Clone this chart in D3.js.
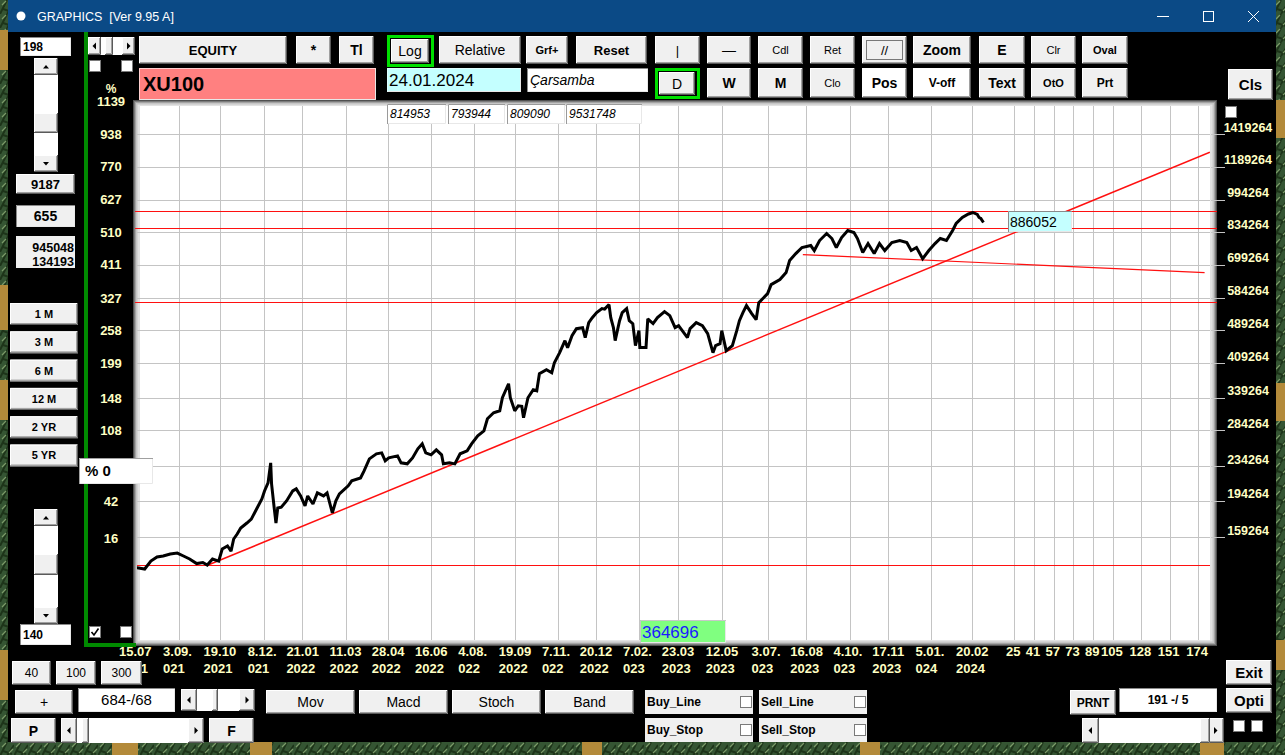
<!DOCTYPE html>
<html>
<head>
<meta charset="utf-8">
<script src="https://cdn.jsdelivr.net/npm/d3@7"></script>
<style>
  body { margin: 0; background: #000; overflow: hidden; }
  svg { display: block; }
  text { font-family: "Liberation Sans", Arial, sans-serif; }
</style>
</head>
<body>
<svg id="chart" width="1285" height="755"></svg>
<script>
// ---- data ----
const dates = [
  "2021-07-16","2021-07-26","2021-08-02","2021-08-09","2021-08-16","2021-08-24","2021-09-01","2021-09-08","2021-09-15","2021-09-23",
  "2021-09-30","2021-10-05","2021-10-11","2021-10-18","2021-10-22","2021-10-28","2021-11-01","2021-11-04","2021-11-08","2021-11-12",
  "2021-11-19","2021-11-24","2021-11-30","2021-12-06","2021-12-09","2021-12-13","2021-12-16","2021-12-17","2021-12-20","2021-12-22",
  "2021-12-24","2021-12-28","2022-01-03","2022-01-10","2022-01-14","2022-01-19","2022-01-24","2022-01-27","2022-02-02","2022-02-07",
  "2022-02-14","2022-02-18","2022-02-24","2022-02-28","2022-03-04","2022-03-14","2022-03-18","2022-03-28","2022-04-01","2022-04-07",
  "2022-04-15","2022-04-21","2022-04-25","2022-04-29","2022-05-09","2022-05-13","2022-05-20","2022-05-26","2022-06-01","2022-06-06",
  "2022-06-10","2022-06-16","2022-06-22","2022-06-28","2022-06-30","2022-07-07","2022-07-13","2022-07-19","2022-07-27","2022-08-01",
  "2022-08-08","2022-08-15","2022-08-19","2022-08-26","2022-09-02","2022-09-05","2022-09-12","2022-09-14","2022-09-19","2022-09-23",
  "2022-09-27","2022-09-29","2022-10-04","2022-10-10","2022-10-14","2022-10-17","2022-10-25","2022-10-31","2022-11-03","2022-11-09",
  "2022-11-15","2022-11-18","2022-11-23","2022-11-28","2022-12-05","2022-12-08","2022-12-12","2022-12-16","2022-12-21","2022-12-27",
  "2022-12-30","2023-01-04","2023-01-06","2023-01-09","2023-01-11","2023-01-16","2023-01-19","2023-01-24","2023-01-27","2023-01-31",
  "2023-02-03","2023-02-07","2023-02-08","2023-02-15","2023-02-17","2023-02-23","2023-02-28","2023-03-08","2023-03-14","2023-03-20",
  "2023-03-24","2023-04-03","2023-04-06","2023-04-13","2023-04-20","2023-04-26","2023-05-02","2023-05-05","2023-05-10","2023-05-12",
  "2023-05-17","2023-05-24","2023-05-29","2023-06-01","2023-06-05","2023-06-09","2023-06-15","2023-06-20","2023-06-23","2023-07-03",
  "2023-07-07","2023-07-17","2023-07-24","2023-07-28","2023-08-04","2023-08-11","2023-08-21","2023-08-25","2023-08-31","2023-09-08",
  "2023-09-14","2023-09-19","2023-09-25","2023-10-02","2023-10-09","2023-10-13","2023-10-19","2023-10-25","2023-11-01","2023-11-07",
  "2023-11-13","2023-11-21","2023-11-30","2023-12-08","2023-12-13","2023-12-19","2023-12-26","2024-01-02","2024-01-09","2024-01-15",
  "2024-01-22","2024-01-29","2024-02-02","2024-02-09","2024-02-16","2024-02-21","2024-02-26","2024-02-28","2024-03-01","2024-03-04"
]

const closes = [
  135200,134100,140000,143100,143900,145500,146200,143900,141600,138100,
  138900,137000,141600,140000,149400,152000,147800,157800,162100,167500,
  172100,175800,185700,196100,204800,213900,238500,212800,186700,172100,
  186700,187500,194000,204800,207100,199300,188800,199300,190800,202600,
  199300,202600,181800,194000,201500,210500,216300,219700,228400,243700,
  250500,251800,241100,245000,247700,238500,237200,245000,257400,264400,
  251800,249100,256000,249100,237200,238500,237200,250500,254600,264400,
  276100,283700,302900,312900,316300,339500,366300,339500,316300,325000,
  324000,304600,339500,354600,352600,386700,395200,388800,410500,433500,
  462700,445400,475400,493800,496500,470300,510100,524200,538700,550500,
  549000,562500,524200,496500,462700,515700,538700,550500,515700,507400,
  450300,488500,446100,446100,520500,507400,524200,541600,529900,496500,
  501900,470300,493800,510100,501900,480600,433500,450300,455200,488500,
  438200,450300,488500,515700,538700,559600,535800,518500,568700,597200,
  627100,644400,669300,714500,742100,766700,775100,754300,796400,827300,
  805100,766700,809500,840900,831900,805100,746200,783500,742100,783500,
  754300,787800,796400,787800,754300,766700,721800,754300,783500,805100,
  796400,840900,873500,902400,919700,927200,917200,902400,897700,878200
]

const baseValue = 136770                    // the 0 % level
const pctLabels = [16, 42, 108, 148, 199, 258, 327, 411, 510, 627, 770, 938, 1139]
const priceTicks = [159264, 194264, 234264, 284264, 339264, 409264, 489264, 584264, 699264, 834264, 994264, 1189264, 1419264]

const tickDates = ["2021-07-15","2021-09-03","2021-10-19","2021-12-08","2022-01-21","2022-03-11","2022-04-28",
  "2022-06-16","2022-08-04","2022-09-19","2022-11-07","2022-12-20","2023-02-07","2023-03-23","2023-05-12",
  "2023-07-03","2023-08-16","2023-10-04","2023-11-17","2024-01-05","2024-02-20"]
const tickTop = ["15.07","3.09.","19.10","8.12.","21.01","11.03","28.04","16.06","4.08.","19.09","7.11.",
  "20.12","7.02.","23.03","12.05","3.07.","16.08","4.10.","17.11","5.01.","20.02"]
const tickBottom = ["2021","021","2021","021","2022","2022","2022","2022","022","2022","022",
  "2022","023","2023","2023","023","2023","023","2023","024","2024"]
const futureTicks = [25, 41, 57, 73, 89, 105, 128, 151, 174]   // bars after the last one

const levelLines = [935500, 853100, 570000]
const trendLines = [
  { from: ["2021-10-06", 137000], to: ["2024-11-16", 1285800] },
  { from: ["2023-08-12", 738100], to: ["2024-11-10", 669000] }
]

// ---- scales ----
const parse = d3.utcParse("%Y-%m-%d")
const series = dates.map((d, i) => ({ date: parse(d), value: closes[i] }))

const plot = { left: 140, top: 106, right: 1210, bottom: 640 }

const x = d3.scaleUtc()
  .domain([parse(tickDates[0]), parse(tickDates[tickDates.length - 1])])
  .range([135, 972])

const y = d3.scaleLog()
  .domain([priceTicks[0], priceTicks[priceTicks.length - 1]])
  .range([537.3, 134])

// bars past the last one: 5 trading days per calendar week
const lastDate = series[series.length - 1].date
const xFuture = n => x(lastDate.getTime() + n * 1.4 * 864e5)

const svg = d3.select("#chart")
const SANS = '"Liberation Sans", Arial, sans-serif'
const SERIF = '"Liberation Serif", "Times New Roman", serif'
const YEL = "#ffffc4"

// ---- backdrop, window ----
const defs = svg.append("defs")
const leaf = defs.append("pattern").attr("id", "leaf").attr("width", 14).attr("height", 14)
  .attr("patternUnits", "userSpaceOnUse")
leaf.append("rect").attr("width", 14).attr("height", 14).attr("fill", "#355533")
leaf.append("path").attr("d", "M0,14L7,0M7,14L14,3M3,9L12,12").attr("stroke", "#1d3419").attr("stroke-width", 2)
leaf.append("path").attr("d", "M2,5L6,1M9,11L13,7").attr("stroke", "#7a9a68").attr("stroke-width", 1.2)

svg.append("rect").attr("width", 1285).attr("height", 755).attr("fill", "url(#leaf)")
const bamboo = [[0, 30, 8, 40], [0, 285, 8, 45], [0, 380, 8, 40], [0, 650, 8, 50],
  [1276, 100, 9, 38], [1276, 383, 9, 38], [1276, 640, 9, 30],
  [112, 742, 26, 13], [250, 742, 22, 13], [582, 742, 20, 13], [860, 742, 20, 13], [1200, 742, 24, 13]]
svg.append("g").selectAll("rect").data(bamboo).join("rect")
  .attr("x", d => d[0]).attr("y", d => d[1]).attr("width", d => d[2]).attr("height", d => d[3])
  .attr("fill", "#b38a3a")

svg.append("rect").attr("x", 8).attr("y", 0).attr("width", 1268).attr("height", 742).attr("fill", "#000")
svg.append("rect").attr("x", 8).attr("y", 0).attr("width", 1268).attr("height", 32).attr("fill", "#0b4a86")
svg.append("circle").attr("cx", 21).attr("cy", 16).attr("r", 4.5).attr("fill", "#fff")
svg.append("text").attr("x", 37).attr("y", 21).attr("fill", "#fff").attr("font-size", 12.5)
  .style("white-space", "pre")
  .attr("font-family", '"Noto Sans", "DejaVu Sans", sans-serif').text("GRAPHICS  [Ver 9.95 A]")
svg.append("path").attr("d", "M1157,16.5H1169").attr("stroke", "#fff")
svg.append("rect").attr("x", 1203.5).attr("y", 11.5).attr("width", 10).attr("height", 10)
  .attr("fill", "none").attr("stroke", "#fff")
svg.append("path").attr("d", "M1248,11L1259,22M1259,11L1248,22").attr("stroke", "#fff")

// ---- widget helpers ----
function button(x0, y0, w, h, label, o = {}) {
  const g = svg.append("g")
  g.append("rect").attr("x", x0).attr("y", y0).attr("width", w).attr("height", h).attr("fill", o.fill || "#f0f0f0")
  g.append("path").attr("d", `M${x0 + .5},${y0 + h - 1}V${y0 + .5}H${x0 + w - 1}`).attr("stroke", "#fff").attr("fill", "none")
  g.append("path").attr("d", `M${x0},${y0 + h - .5}H${x0 + w - .5}V${y0}`).attr("stroke", "#5a5a5a").attr("fill", "none")
  g.append("path").attr("d", `M${x0 + 1},${y0 + h - 1.5}H${x0 + w - 1.5}V${y0 + 1}`).attr("stroke", "#a0a0a0").attr("fill", "none")
  if (o.focus) g.append("rect").attr("x", x0 + 4.5).attr("y", y0 + 4.5).attr("width", w - 9).attr("height", h - 9)
    .attr("fill", "none").attr("stroke", "#000").attr("stroke-dasharray", "1,1")
  g.append("text").attr("x", x0 + w / 2).attr("y", y0 + h / 2 + (o.dy || 0)).attr("dy", "0.36em")
    .attr("text-anchor", "middle").attr("font-size", o.size || 13)
    .attr("font-weight", o.bold ? "bold" : "normal").attr("font-family", o.font || SANS).text(label)
  return g
}

function field(x0, y0, w, h, label, o = {}) {
  const g = svg.append("g")
  g.append("rect").attr("x", x0).attr("y", y0).attr("width", w).attr("height", h).attr("fill", o.fill || "#fff")
  g.append("path").attr("d", `M${x0 + .5},${y0 + h}V${y0 + .5}H${x0 + w}`).attr("stroke", o.edge || "#8a8a8a").attr("fill", "none")
  g.append("path").attr("d", `M${x0 + 1},${y0 + h - .5}H${x0 + w - .5}V${y0 + 1}`).attr("stroke", "#e8e8e8").attr("fill", "none")
  const t = g.append("text").attr("y", y0 + h / 2 + (o.dy || 0)).attr("dy", "0.36em")
    .attr("font-size", o.size || 13).attr("font-weight", o.bold ? "bold" : "normal")
    .attr("font-style", o.italic ? "italic" : "normal").attr("fill", o.color || "#000")
    .attr("font-family", o.font || SANS)
  if (o.align === "middle") t.attr("x", x0 + w / 2).attr("text-anchor", "middle")
  else if (o.align === "end") t.attr("x", x0 + w - 3).attr("text-anchor", "end")
  else t.attr("x", x0 + (o.pad || 3))
  t.text(label)
  return g
}

function checkbox(x0, y0, checked) {
  svg.append("rect").attr("x", x0 + .5).attr("y", y0 + .5).attr("width", 11).attr("height", 11)
    .attr("fill", "#fff").attr("stroke", "#7a7a7a")
  if (checked) svg.append("path").attr("d", `M${x0 + 2.5},${y0 + 6}L${x0 + 5},${y0 + 9}L${x0 + 9.5},${y0 + 2.5}`)
    .attr("fill", "none").attr("stroke", "#000").attr("stroke-width", 1.6)
}

function arrowBtn(x0, y0, w, h, dir) {
  button(x0, y0, w, h, "")
  const cx = x0 + w / 2, cy = y0 + h / 2
  const tri = {
    up: `M${cx - 3},${cy + 2}L${cx + 3},${cy + 2}L${cx},${cy - 1.5}Z`,
    down: `M${cx - 3},${cy - 1.5}L${cx + 3},${cy - 1.5}L${cx},${cy + 2}Z`,
    left: `M${cx + 1.5},${cy - 3.5}L${cx + 1.5},${cy + 3.5}L${cx - 2},${cy}Z`,
    right: `M${cx - 1.5},${cy - 3.5}L${cx - 1.5},${cy + 3.5}L${cx + 2},${cy}Z`
  }
  svg.append("path").attr("d", tri[dir]).attr("fill", "#000")
}

function vscroll(x0, y0, w, h, t0, t1) {
  svg.append("rect").attr("x", x0).attr("y", y0).attr("width", w).attr("height", h).attr("fill", "#fff")
  arrowBtn(x0, y0, w, 17, "up")
  arrowBtn(x0, y0 + h - 17, w, 17, "down")
  button(x0, t0, w, t1 - t0, "")
}

function hscroll(x0, y0, w, h, bw, t0, t1) {
  svg.append("rect").attr("x", x0).attr("y", y0).attr("width", w).attr("height", h).attr("fill", "#fff")
  arrowBtn(x0, y0, bw, h, "left")
  arrowBtn(x0 + w - bw, y0, bw, h, "right")
  button(t0, y0, t1 - t0, h, "")
}

// ---- chart frame ----
const frame = svg.append("g")
const shades = [["#505050", 6], ["#7c7c7c", 5], ["#a4a4a4", 4], ["#c6c6c6", 3], ["#e2e2e2", 1.5]]
shades.forEach(([c, m]) => frame.append("rect")
  .attr("x", plot.left - m - 1).attr("y", plot.top - m).attr("width", plot.right - plot.left + 2 * m + 2)
  .attr("height", plot.bottom - plot.top + 2 * m).attr("fill", c))
frame.append("rect").attr("x", plot.left).attr("y", plot.top)
  .attr("width", plot.right - plot.left).attr("height", plot.bottom - plot.top).attr("fill", "#fff")

defs.append("clipPath").attr("id", "plotClip").append("rect")
  .attr("x", plot.left - 3).attr("y", plot.top).attr("width", plot.right - plot.left + 3)
  .attr("height", plot.bottom - plot.top)

// grid
const grid = svg.append("g").attr("stroke", "#c4c4c4").attr("shape-rendering", "crispEdges")
const vx = tickDates.map(d => x(parse(d))).concat(futureTicks.map(xFuture))
  .filter(v => v > plot.left && v < plot.right)
grid.selectAll(".v").data(vx).join("line")
  .attr("x1", d => Math.round(d) + .5).attr("x2", d => Math.round(d) + .5)
  .attr("y1", plot.top).attr("y2", plot.bottom)
grid.selectAll(".h").data(priceTicks).join("line")
  .attr("x1", 136).attr("x2", plot.right)
  .attr("y1", d => Math.round(y(d)) + .5).attr("y2", d => Math.round(y(d)) + .5)
grid.selectAll(".stub").data(priceTicks).join("line")
  .attr("x1", plot.right + 1).attr("x2", 1225)
  .attr("y1", d => Math.round(y(d)) + .5).attr("y2", d => Math.round(y(d)) + .5)

// red level lines
const red = svg.append("g").attr("stroke", "#ff1010").attr("shape-rendering", "crispEdges")
red.selectAll("line").data(levelLines).join("line")
  .attr("x1", 135).attr("x2", 1217)
  .attr("y1", d => Math.round(y(d)) + .5).attr("y2", d => Math.round(y(d)) + .5)
red.append("line").attr("x1", 137).attr("x2", plot.right)
  .attr("y1", Math.round(y(baseValue)) + .5).attr("y2", Math.round(y(baseValue)) + .5)

// trend lines
svg.append("g").attr("clip-path", "url(#plotClip)")
  .selectAll("line").data(trendLines).join("line")
  .attr("x1", d => x(parse(d.from[0]))).attr("y1", d => y(d.from[1]))
  .attr("x2", d => x(parse(d.to[0]))).attr("y2", d => y(d.to[1]))
  .attr("stroke", "#ff1010").attr("stroke-width", (d, i) => i === 0 ? 1.5 : 1.2)

// price line
const line = d3.line().x(d => x(d.date)).y(d => y(d.value))
svg.append("path").datum(series).attr("clip-path", "url(#plotClip)")
  .attr("d", line).attr("fill", "none").attr("stroke", "#000")
  .attr("stroke-width", 3).attr("stroke-linejoin", "miter").attr("stroke-miterlimit", 2)

// ---- axes labels ----
const leftAxis = svg.append("g").attr("fill", YEL).attr("font-weight", "bold")
  .attr("font-size", 13).attr("text-anchor", "middle")
leftAxis.append("text").attr("x", 111).attr("y", 93).attr("font-size", 12).text("%")
leftAxis.selectAll(".l").data(pctLabels).join("text")
  .attr("x", 111).attr("y", d => y(baseValue * (1 + d / 100)) + 4.8).text(d => d)

svg.append("g").attr("fill", YEL).attr("font-weight", "bold").attr("font-size", 12.5)
  .attr("text-anchor", "middle")
  .selectAll("text").data(priceTicks).join("text")
  .attr("x", 1248).attr("y", d => y(d) - 2.5).text(d => d)

const xAxis = svg.append("g").attr("fill", YEL).attr("font-weight", "bold").attr("font-size", 13)
xAxis.selectAll(".t1").data(tickDates).join("text")
  .attr("x", d => x(parse(d)) - 16).attr("y", 656).text((d, i) => tickTop[i])
xAxis.selectAll(".t2").data(tickDates).join("text")
  .attr("x", d => x(parse(d)) - 16).attr("y", 673).text((d, i) => tickBottom[i])
xAxis.selectAll(".f").data(futureTicks).join("text")
  .attr("x", d => xFuture(d) - 1).attr("y", 656).attr("text-anchor", "middle").text(d => d)

// ---- info boxes on the chart ----
field(387, 104, 59, 20, "814953", { italic: true, size: 12, edge: "#9a9a9a" })
field(448, 104, 57, 20, "793944", { italic: true, size: 12, edge: "#9a9a9a" })
field(507, 104, 58, 20, "809090", { italic: true, size: 12, edge: "#9a9a9a" })
field(566, 104, 76, 20, "9531748", { italic: true, size: 12, edge: "#9a9a9a" })
field(1008, 211, 64, 21, "886052", { fill: "#c4ffff", size: 14, pad: 2, edge: "#8a8a8a" })
field(640, 620, 86, 23, "364696", { fill: "#80ff80", size: 17, pad: 2, color: "#1a1aff", edge: "#c8c8c8" })

// ---- top toolbar ----
hscroll(88, 37, 47, 18, 13, 105, 113)
checkbox(89, 60, false)
checkbox(121, 60, false)
button(139, 36, 148, 28, "EQUITY", { bold: true, font: SERIF, size: 13 })
button(296, 36, 35, 28, "*", { bold: true, size: 14 })
button(339, 36, 35, 28, "Tl", { bold: true, size: 14 })
svg.append("rect").attr("x", 388.5).attr("y", 36.5).attr("width", 44).attr("height", 29)
  .attr("fill", "none").attr("stroke", "#00e000").attr("stroke-width", 3)
button(391, 39, 38, 24, "Log", { size: 14 })
button(439, 36, 82, 28, "Relative", { size: 14 })
button(526, 36, 42, 28, "Grf+", { bold: true, size: 11 })
button(576, 36, 71, 28, "Reset", { bold: true, size: 13 })
button(655, 36, 45, 28, "|", { size: 13 })
button(707, 36, 44, 28, "—", { size: 14 })
button(758, 36, 45, 28, "Cdl", { size: 11 })
button(810, 36, 45, 28, "Ret", { size: 11 })
button(862, 36, 45, 28, "//", { size: 13, focus: true })
button(913, 36, 58, 28, "Zoom", { bold: true, size: 14 })
button(979, 36, 46, 28, "E", { bold: true, size: 14 })
button(1031, 36, 45, 28, "Clr", { size: 11 })
button(1082, 36, 46, 28, "Oval", { bold: true, size: 11 })

field(139, 68, 237, 32, "XU100", { fill: "#ff8080", bold: true, size: 20, pad: 4, edge: "#ffd0d0" })
field(387, 68, 134, 24, "24.01.2024", { fill: "#c4ffff", size: 17, pad: 2, edge: "#e0ffff" })
field(527, 68, 121, 24, "Çarsamba", { italic: true, size: 14, pad: 3 })
svg.append("rect").attr("x", 656.5).attr("y", 69.5).attr("width", 42).attr("height", 28)
  .attr("fill", "none").attr("stroke", "#00e000").attr("stroke-width", 3)
button(659, 72, 36, 23, "D", { size: 14 })
button(707, 68, 44, 30, "W", { bold: true, size: 14 })
button(758, 68, 45, 30, "M", { bold: true, size: 14 })
button(810, 68, 45, 30, "Clo", { size: 11 })
button(862, 68, 45, 30, "Pos", { bold: true, size: 14, fill: "#fff" })
button(913, 68, 58, 30, "V-off", { bold: true, size: 12, fill: "#fff" })
button(979, 68, 46, 30, "Text", { bold: true, size: 14 })
button(1031, 68, 45, 30, "OtO", { bold: true, size: 11 })
button(1082, 68, 46, 30, "Prt", { bold: true, size: 12 })
button(1228, 69, 45, 31, "Cls", { bold: true, size: 15 })
checkbox(1225, 106, false)

// ---- left panel ----
svg.append("rect").attr("x", 84).attr("y", 32).attr("width", 4).attr("height", 615).attr("fill", "#008a00")
svg.append("rect").attr("x", 84).attr("y", 643).attr("width", 52).attr("height", 4).attr("fill", "#008a00")
field(20, 37, 51, 19, "198", { bold: true, size: 12 })
vscroll(34, 58, 24, 114, 113, 133)
button(16, 174, 59, 20, "9187", { bold: true, size: 13 })
field(16, 205, 59, 22, "655", { bold: true, size: 14, align: "middle", fill: "#f0f0f0" })
svg.append("rect").attr("x", 16).attr("y", 236).attr("width", 59).attr("height", 32).attr("fill", "#f0f0f0")
svg.append("text").attr("x", 74).attr("y", 247).attr("dy", "0.36em").attr("text-anchor", "end")
  .attr("font-weight", "bold").attr("font-size", 12.5).text("945048")
svg.append("text").attr("x", 74).attr("y", 261).attr("dy", "0.36em").attr("text-anchor", "end")
  .attr("font-weight", "bold").attr("font-size", 12.5).text("134193")
const periods = ["1 M", "3 M", "6 M", "12 M", "2 YR", "5 YR"]
periods.forEach((p, i) => button(10, 303 + i * 28.3, 68, 22, p, { bold: true, size: 11 }))
field(79, 458, 74, 26, "% 0", { bold: true, size: 15, pad: 6, edge: "#a0a0a0" })
vscroll(34, 509, 24, 115, 554, 575)
field(20, 624, 51, 21, "140", { bold: true, size: 12 })
checkbox(89, 626, true)
checkbox(120, 626, false)

// ---- bottom bar ----
button(12, 661, 39, 24, "40", { size: 12 })
button(56, 661, 40, 24, "100", { size: 12 })
button(101, 661, 41, 24, "300", { size: 12 })
button(15, 690, 58, 24, "+", { size: 14 })
field(78, 688, 97, 24, "684-/68", { size: 15, align: "middle" })
hscroll(181, 689, 74, 22, 16, 212, 218)
button(11, 718, 45, 25, "P", { bold: true, size: 14 })
hscroll(61, 718, 143, 25, 16, 82, 89)
button(209, 718, 45, 25, "F", { bold: true, size: 14 })
const studies = ["Mov", "Macd", "Stoch", "Band"]
studies.forEach((s, i) => button(266 + i * 93, 690, 89, 24, s, { size: 14 }))

const toggles = [["Buy_Line", 645, 690], ["Sell_Line", 759, 690], ["Buy_Stop", 645, 718], ["Sell_Stop", 759, 718]]
toggles.forEach(([t, tx, ty]) => {
  svg.append("rect").attr("x", tx).attr("y", ty).attr("width", 108).attr("height", 24).attr("fill", "#f0f0f0")
  svg.append("text").attr("x", tx + 2).attr("y", ty + 12).attr("dy", "0.36em")
    .attr("font-weight", "bold").attr("font-size", 12).text(t)
  checkbox(tx + 95, ty + 6, false)
})

button(1070, 690, 46, 25, "PRNT", { bold: true, size: 12 })
field(1119, 688, 98, 24, "191 -/ 5", { bold: true, size: 12, align: "middle", font: '"Liberation Mono", monospace' })
hscroll(1082, 718, 142, 25, 17, 1200, 1210)
button(1226, 660, 46, 25, "Exit", { bold: true, size: 15 })
button(1226, 688, 46, 25, "Opti", { bold: true, size: 15 })
checkbox(1233, 720, false)
checkbox(1251, 720, false)
</script>
</body>
</html>
